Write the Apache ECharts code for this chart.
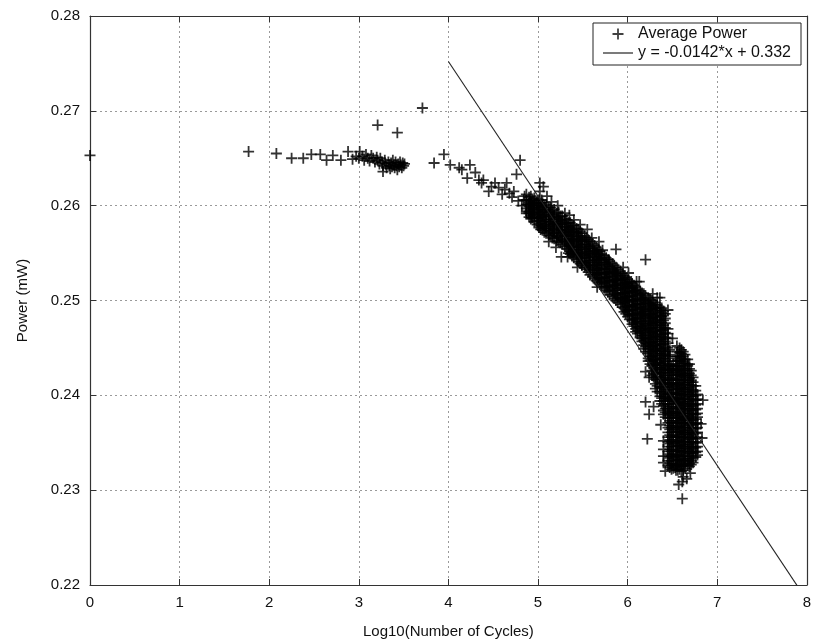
<!DOCTYPE html>
<html>
<head>
<meta charset="utf-8">
<script src="https://cdn.jsdelivr.net/npm/echarts@6/dist/echarts.min.js"></script>
<style>
  html, body { margin: 0; padding: 0; background: #fff; }
  #chart { width: 814px; height: 644px; }
</style>
</head>
<body>
<div id="chart"></div>
<script>
// Average power against log10 of the cycle count, with the linear fit of the tail.

const xTickValues = [0, 1, 2, 3, 4, 5, 6, 7, 8];
const yTickValues = [0.22, 0.23, 0.24, 0.25, 0.26, 0.27, 0.28];

// Short runs: flat plateau near 0.265 mW
const earlyPoints = [
  [0, 0.2653], [1.77, 0.2657], [2.08, 0.2655], [2.25, 0.2650], [2.38, 0.2650],
  [2.47, 0.2654], [2.57, 0.2654], [2.64, 0.2648], [2.71, 0.2653], [2.80, 0.2648],
  [2.88, 0.2657], [2.93, 0.2649], [2.97, 0.2652]
];

const plateauPoints = [
  [3.00, 0.2650], [3.01, 0.2657], [3.04, 0.2652], [3.06, 0.2648], [3.08, 0.2654],
  [3.10, 0.2650], [3.12, 0.2647], [3.14, 0.2653], [3.16, 0.2650], [3.18, 0.2646],
  [3.20, 0.2651], [3.21, 0.2648], [3.23, 0.2644], [3.24, 0.2650], [3.26, 0.2646],
  [3.27, 0.2642], [3.27, 0.2636], [3.29, 0.2648], [3.30, 0.2644], [3.31, 0.2640],
  [3.33, 0.2646], [3.34, 0.2642], [3.35, 0.2639], [3.36, 0.2645], [3.37, 0.2641],
  [3.38, 0.2648], [3.39, 0.2643], [3.40, 0.2640], [3.41, 0.2646], [3.42, 0.2642],
  [3.43, 0.2638], [3.44, 0.2644], [3.45, 0.2641], [3.46, 0.2646], [3.47, 0.2643],
  [3.48, 0.2640], [3.49, 0.2645], [3.50, 0.2642], [3.51, 0.2644],
  [3.21, 0.2685], [3.43, 0.2677], [3.71, 0.2703], [3.84, 0.2645], [3.95, 0.2654]
];

// Onset of the decline between 10^4 and 10^5 cycles
const transitionPoints = [
  [4.02, 0.2643], [4.12, 0.2640], [4.15, 0.2638], [4.21, 0.2629], [4.24, 0.2643],
  [4.30, 0.2635], [4.34, 0.2627], [4.37, 0.2624], [4.39, 0.2627], [4.45, 0.2615],
  [4.48, 0.2620], [4.52, 0.2624], [4.56, 0.2619], [4.60, 0.2612], [4.63, 0.2617],
  [4.65, 0.2624], [4.68, 0.2613], [4.71, 0.2609], [4.73, 0.2615], [4.76, 0.2633],
  [4.78, 0.2605], [4.80, 0.2648], [4.82, 0.2600], [4.84, 0.2606], [4.85, 0.2610],
  [4.87, 0.2594], [4.89, 0.2601], [4.90, 0.2592], [4.91, 0.2605], [4.93, 0.2588],
  [4.95, 0.2596], [4.98, 0.2603], [5.00, 0.2587], [5.02, 0.2624], [5.02, 0.2615],
  [5.04, 0.2606], [5.06, 0.2620], [5.10, 0.2610]
];

// Dense main band, one column of readings per x position
const bandColumns = [
  [4.87, [0.2612, 0.2606, 0.2601, 0.2597, 0.2592]],
  [4.92, [0.2610, 0.2605, 0.2601, 0.2595, 0.2590, 0.2586]],
  [4.96, [0.2608, 0.2603, 0.2597, 0.2593, 0.2588, 0.2583]],
  [5.01, [0.2606, 0.2600, 0.2596, 0.2591, 0.2587, 0.2581, 0.2577]],
  [5.05, [0.2603, 0.2599, 0.2593, 0.2589, 0.2583, 0.2578, 0.2574]],
  [5.09, [0.2601, 0.2596, 0.2591, 0.2585, 0.2581, 0.2576, 0.2571]],
  [5.14, [0.2598, 0.2594, 0.2588, 0.2583, 0.2579, 0.2573, 0.2568]],
  [5.18, [0.2596, 0.2590, 0.2586, 0.2581, 0.2575, 0.2571, 0.2565]],
  [5.23, [0.2593, 0.2588, 0.2583, 0.2578, 0.2574, 0.2568, 0.2562]],
  [5.27, [0.2589, 0.2584, 0.2580, 0.2574, 0.2569, 0.2564, 0.2559]],
  [5.32, [0.2585, 0.2581, 0.2575, 0.2571, 0.2565, 0.2560, 0.2555]],
  [5.36, [0.2582, 0.2577, 0.2572, 0.2567, 0.2563, 0.2557, 0.2552, 0.2549]],
  [5.40, [0.2579, 0.2573, 0.2569, 0.2564, 0.2558, 0.2554, 0.2549, 0.2545]],
  [5.45, [0.2575, 0.2571, 0.2565, 0.2560, 0.2556, 0.2550, 0.2546, 0.2541]],
  [5.49, [0.2571, 0.2566, 0.2562, 0.2556, 0.2551, 0.2547, 0.2541, 0.2537]],
  [5.54, [0.2566, 0.2562, 0.2557, 0.2552, 0.2547, 0.2542, 0.2537, 0.2533]],
  [5.58, [0.2562, 0.2557, 0.2552, 0.2548, 0.2542, 0.2537, 0.2532, 0.2527]],
  [5.63, [0.2558, 0.2553, 0.2549, 0.2543, 0.2538, 0.2534, 0.2528, 0.2523]],
  [5.67, [0.2554, 0.2549, 0.2544, 0.2540, 0.2534, 0.2529, 0.2524, 0.2519]],
  [5.71, [0.2549, 0.2545, 0.2540, 0.2534, 0.2530, 0.2524, 0.2520, 0.2515]],
  [5.76, [0.2545, 0.2540, 0.2536, 0.2530, 0.2525, 0.2521, 0.2515, 0.2511]],
  [5.80, [0.2541, 0.2536, 0.2531, 0.2527, 0.2521, 0.2516, 0.2511, 0.2506]],
  [5.85, [0.2537, 0.2532, 0.2528, 0.2522, 0.2517, 0.2513, 0.2507, 0.2502]],
  [5.89, [0.2533, 0.2528, 0.2523, 0.2519, 0.2513, 0.2508, 0.2503, 0.2498]],
  [5.94, [0.2528, 0.2524, 0.2518, 0.2514, 0.2508, 0.2503, 0.2499, 0.2493]],
  [5.98, [0.2524, 0.2519, 0.2515, 0.2509, 0.2504, 0.2500, 0.2494, 0.2490, 0.2486]],
  [6.02, [0.2520, 0.2516, 0.2510, 0.2505, 0.2501, 0.2495, 0.2490, 0.2485, 0.2480]],
  [6.07, [0.2516, 0.2511, 0.2507, 0.2501, 0.2496, 0.2492, 0.2486, 0.2481, 0.2477, 0.2473]],
  [6.11, [0.2512, 0.2508, 0.2502, 0.2497, 0.2493, 0.2487, 0.2482, 0.2478, 0.2472, 0.2468, 0.2465]],
  [6.16, [0.2508, 0.2503, 0.2499, 0.2493, 0.2488, 0.2484, 0.2478, 0.2473, 0.2469, 0.2463, 0.2460, 0.2457]],
  [6.20, [0.2505, 0.2500, 0.2496, 0.2490, 0.2485, 0.2481, 0.2475, 0.2470, 0.2466, 0.2460, 0.2455, 0.2451, 0.2446]],
  [6.25, [0.2501, 0.2497, 0.2491, 0.2486, 0.2482, 0.2476, 0.2471, 0.2467, 0.2461, 0.2456, 0.2452, 0.2446, 0.2441, 0.2437, 0.2433]],
  [6.29, [0.2498, 0.2493, 0.2489, 0.2483, 0.2478, 0.2474, 0.2468, 0.2463, 0.2459, 0.2453, 0.2448, 0.2444, 0.2438, 0.2433, 0.2429, 0.2423, 0.2419]],
  [6.33, [0.2495, 0.2491, 0.2485, 0.2480, 0.2476, 0.2470, 0.2465, 0.2461, 0.2455, 0.2450, 0.2446, 0.2440, 0.2435, 0.2431, 0.2425, 0.2420, 0.2416, 0.2410, 0.2404]],
  [6.38, [0.2492, 0.2487, 0.2483, 0.2477, 0.2472, 0.2468, 0.2462, 0.2457, 0.2453, 0.2447, 0.2442, 0.2438, 0.2432, 0.2427, 0.2423, 0.2417, 0.2412, 0.2408, 0.2402, 0.2397, 0.2391]],
  [6.42, [0.2486, 0.2481, 0.2476, 0.2471, 0.2466, 0.2461, 0.2457, 0.2451, 0.2446, 0.2442, 0.2436, 0.2431, 0.2427, 0.2421, 0.2416, 0.2412, 0.2406, 0.2401, 0.2397, 0.2391, 0.2386, 0.2382, 0.2377]],
  [6.47, [0.2448, 0.2443, 0.2439, 0.2433, 0.2428, 0.2424, 0.2418, 0.2413, 0.2409, 0.2403, 0.2398, 0.2394, 0.2388, 0.2383, 0.2379, 0.2373, 0.2368, 0.2364, 0.2358, 0.2353, 0.2349, 0.2343, 0.2338, 0.2334, 0.2328, 0.2324]]
];

// Readings lying between the columns above
const bandColumnsB = [
  [4.90, [0.2609, 0.2603, 0.2599, 0.2594, 0.2588]],
  [4.94, [0.2607, 0.2602, 0.2598, 0.2592, 0.2587]],
  [4.99, [0.2605, 0.2600, 0.2594, 0.2590, 0.2584, 0.2580]],
  [5.03, [0.2603, 0.2598, 0.2593, 0.2588, 0.2584, 0.2579, 0.2575]],
  [5.07, [0.2600, 0.2595, 0.2590, 0.2586, 0.2580, 0.2576, 0.2572]],
  [5.12, [0.2598, 0.2593, 0.2589, 0.2583, 0.2578, 0.2574, 0.2569]],
  [5.16, [0.2595, 0.2591, 0.2585, 0.2580, 0.2576, 0.2570, 0.2566]],
  [5.21, [0.2592, 0.2587, 0.2581, 0.2577, 0.2572, 0.2567, 0.2563]],
  [5.25, [0.2589, 0.2585, 0.2580, 0.2575, 0.2571, 0.2566, 0.2561]],
  [5.30, [0.2586, 0.2582, 0.2577, 0.2572, 0.2568, 0.2562, 0.2557]],
  [5.34, [0.2582, 0.2578, 0.2573, 0.2569, 0.2563, 0.2558, 0.2554, 0.2550]],
  [5.38, [0.2579, 0.2575, 0.2570, 0.2565, 0.2561, 0.2556, 0.2551, 0.2547]],
  [5.43, [0.2576, 0.2572, 0.2567, 0.2562, 0.2557, 0.2553, 0.2548, 0.2543]],
  [5.47, [0.2573, 0.2568, 0.2563, 0.2559, 0.2554, 0.2549, 0.2544, 0.2539]],
  [5.52, [0.2568, 0.2564, 0.2559, 0.2554, 0.2549, 0.2545, 0.2539, 0.2535]],
  [5.56, [0.2564, 0.2559, 0.2555, 0.2550, 0.2545, 0.2540, 0.2535, 0.2530]],
  [5.61, [0.2560, 0.2555, 0.2550, 0.2546, 0.2540, 0.2536, 0.2530, 0.2525]],
  [5.65, [0.2556, 0.2551, 0.2546, 0.2542, 0.2537, 0.2532, 0.2527, 0.2521]],
  [5.69, [0.2552, 0.2547, 0.2542, 0.2537, 0.2532, 0.2527, 0.2522, 0.2517]],
  [5.74, [0.2547, 0.2543, 0.2538, 0.2533, 0.2528, 0.2523, 0.2518, 0.2513]],
  [5.78, [0.2543, 0.2538, 0.2533, 0.2529, 0.2524, 0.2519, 0.2514, 0.2509]],
  [5.83, [0.2539, 0.2534, 0.2530, 0.2525, 0.2520, 0.2515, 0.2510, 0.2504]],
  [5.87, [0.2535, 0.2530, 0.2526, 0.2521, 0.2516, 0.2511, 0.2505, 0.2500]],
  [5.92, [0.2531, 0.2526, 0.2521, 0.2516, 0.2511, 0.2506, 0.2501, 0.2496]],
  [5.96, [0.2526, 0.2522, 0.2517, 0.2512, 0.2507, 0.2502, 0.2497, 0.2492, 0.2488]],
  [6.00, [0.2522, 0.2518, 0.2513, 0.2508, 0.2503, 0.2498, 0.2493, 0.2488, 0.2483]],
  [6.05, [0.2518, 0.2513, 0.2509, 0.2504, 0.2499, 0.2494, 0.2489, 0.2484, 0.2479, 0.2475]],
  [6.09, [0.2514, 0.2510, 0.2505, 0.2500, 0.2495, 0.2490, 0.2485, 0.2480, 0.2475, 0.2470, 0.2467]],
  [6.14, [0.2510, 0.2506, 0.2501, 0.2496, 0.2491, 0.2486, 0.2481, 0.2476, 0.2471, 0.2466, 0.2461]],
  [6.18, [0.2507, 0.2502, 0.2497, 0.2492, 0.2488, 0.2483, 0.2478, 0.2473, 0.2468, 0.2463, 0.2458, 0.2453, 0.2449]],
  [6.23, [0.2503, 0.2498, 0.2494, 0.2489, 0.2484, 0.2479, 0.2474, 0.2469, 0.2464, 0.2459, 0.2454, 0.2449, 0.2444, 0.2439, 0.2436]],
  [6.27, [0.2500, 0.2495, 0.2491, 0.2486, 0.2481, 0.2476, 0.2471, 0.2466, 0.2461, 0.2456, 0.2451, 0.2446, 0.2441, 0.2436, 0.2431, 0.2426, 0.2421]],
  [6.31, [0.2496, 0.2492, 0.2487, 0.2482, 0.2477, 0.2472, 0.2467, 0.2462, 0.2457, 0.2452, 0.2447, 0.2442, 0.2437, 0.2432, 0.2427, 0.2422, 0.2417, 0.2412, 0.2407]],
  [6.36, [0.2493, 0.2489, 0.2484, 0.2479, 0.2474, 0.2469, 0.2464, 0.2459, 0.2454, 0.2449, 0.2444, 0.2439, 0.2434, 0.2429, 0.2424, 0.2419, 0.2414, 0.2409, 0.2404, 0.2399, 0.2394]],
  [6.40, [0.2489, 0.2484, 0.2479, 0.2474, 0.2469, 0.2464, 0.2459, 0.2454, 0.2449, 0.2444, 0.2439, 0.2434, 0.2429, 0.2424, 0.2419, 0.2414, 0.2409, 0.2404, 0.2399, 0.2394, 0.2389, 0.2384, 0.2380]],
  [6.45, [0.2470, 0.2465, 0.2460, 0.2455, 0.2450, 0.2446, 0.2441, 0.2436, 0.2431, 0.2426, 0.2421, 0.2416, 0.2411, 0.2406, 0.2401, 0.2396, 0.2391, 0.2386, 0.2381, 0.2376, 0.2371, 0.2366, 0.2361, 0.2356, 0.2351, 0.2346, 0.2341, 0.2336, 0.2331, 0.2326]]
];

// Second lobe of long runs near 10^6.6 cycles
const lobeColumns = [
  [6.51, [0.2433, 0.2428, 0.2424, 0.2418, 0.2413, 0.2409, 0.2403, 0.2398, 0.2394, 0.2388, 0.2383, 0.2379, 0.2373, 0.2368, 0.2364, 0.2358, 0.2353, 0.2349, 0.2343, 0.2338, 0.2334, 0.2328, 0.2323]],
  [6.56, [0.2446, 0.2441, 0.2437, 0.2431, 0.2426, 0.2422, 0.2416, 0.2411, 0.2407, 0.2401, 0.2396, 0.2392, 0.2386, 0.2381, 0.2377, 0.2371, 0.2366, 0.2362, 0.2356, 0.2351, 0.2347, 0.2341, 0.2336, 0.2332, 0.2326, 0.2321]],
  [6.60, [0.2448, 0.2444, 0.2439, 0.2434, 0.2429, 0.2424, 0.2420, 0.2414, 0.2409, 0.2404, 0.2400, 0.2394, 0.2389, 0.2385, 0.2379, 0.2374, 0.2370, 0.2364, 0.2359, 0.2355, 0.2349, 0.2344, 0.2340, 0.2334, 0.2329, 0.2325, 0.2320]],
  [6.64, [0.2443, 0.2438, 0.2434, 0.2428, 0.2423, 0.2419, 0.2413, 0.2408, 0.2404, 0.2398, 0.2393, 0.2389, 0.2383, 0.2378, 0.2374, 0.2368, 0.2363, 0.2359, 0.2353, 0.2348, 0.2344, 0.2338, 0.2333, 0.2328, 0.2323]],
  [6.69, [0.2433, 0.2428, 0.2423, 0.2418, 0.2414, 0.2408, 0.2403, 0.2399, 0.2393, 0.2388, 0.2384, 0.2378, 0.2373, 0.2369, 0.2363, 0.2358, 0.2354, 0.2348, 0.2343, 0.2339, 0.2333, 0.2328, 0.2325]],
  [6.73, [0.2419, 0.2414, 0.2410, 0.2404, 0.2399, 0.2395, 0.2389, 0.2384, 0.2380, 0.2374, 0.2369, 0.2365, 0.2359, 0.2354, 0.2350, 0.2344, 0.2339, 0.2334, 0.2329]],
  [6.78, [0.2401, 0.2396, 0.2391, 0.2386, 0.2381, 0.2377, 0.2371, 0.2366, 0.2361, 0.2356, 0.2351, 0.2346, 0.2341, 0.2337]]
];

const lobeColumnsB = [
  [6.49, [0.2430, 0.2426, 0.2421, 0.2416, 0.2411, 0.2406, 0.2401, 0.2396, 0.2391, 0.2386, 0.2381, 0.2376, 0.2371, 0.2366, 0.2361, 0.2356, 0.2351, 0.2346, 0.2341, 0.2336, 0.2331, 0.2326, 0.2322]],
  [6.54, [0.2441, 0.2436, 0.2431, 0.2426, 0.2421, 0.2416, 0.2411, 0.2406, 0.2401, 0.2396, 0.2391, 0.2386, 0.2381, 0.2376, 0.2371, 0.2366, 0.2361, 0.2356, 0.2351, 0.2346, 0.2341, 0.2336, 0.2331, 0.2326, 0.2321]],
  [6.58, [0.2450, 0.2445, 0.2441, 0.2436, 0.2431, 0.2427, 0.2422, 0.2417, 0.2412, 0.2407, 0.2402, 0.2397, 0.2392, 0.2387, 0.2382, 0.2377, 0.2372, 0.2367, 0.2362, 0.2357, 0.2352, 0.2347, 0.2342, 0.2337, 0.2332, 0.2327, 0.2322]],
  [6.62, [0.2446, 0.2441, 0.2436, 0.2431, 0.2426, 0.2421, 0.2416, 0.2411, 0.2406, 0.2401, 0.2396, 0.2391, 0.2386, 0.2381, 0.2376, 0.2371, 0.2366, 0.2361, 0.2356, 0.2351, 0.2346, 0.2341, 0.2336, 0.2331, 0.2326, 0.2321]],
  [6.67, [0.2438, 0.2433, 0.2431, 0.2426, 0.2421, 0.2416, 0.2411, 0.2406, 0.2401, 0.2396, 0.2391, 0.2386, 0.2381, 0.2376, 0.2371, 0.2366, 0.2361, 0.2356, 0.2351, 0.2346, 0.2341, 0.2336, 0.2331, 0.2326]],
  [6.71, [0.2426, 0.2421, 0.2416, 0.2411, 0.2406, 0.2401, 0.2396, 0.2391, 0.2386, 0.2381, 0.2376, 0.2371, 0.2366, 0.2361, 0.2356, 0.2351, 0.2346, 0.2341, 0.2336, 0.2331, 0.2327]],
  [6.76, [0.2410, 0.2405, 0.2400, 0.2395, 0.2390, 0.2385, 0.2380, 0.2375, 0.2370, 0.2365, 0.2360, 0.2355, 0.2350, 0.2345, 0.2340, 0.2335]]
];

// Scattered readings around the band
const outlierPoints = [
  [5.26, 0.2546], [5.30, 0.2592], [5.40, 0.2585], [5.60, 0.2566], [5.72, 0.2553],
  [5.79, 0.2543], [5.87, 0.2554], [5.87, 0.2529], [5.87, 0.2522], [6.01, 0.2529],
  [6.04, 0.2520], [6.04, 0.2514], [6.10, 0.2520], [6.20, 0.2543], [6.28, 0.2507],
  [6.36, 0.2503], [6.45, 0.2490], [6.50, 0.2460], [6.55, 0.2452],
  [6.20, 0.2425], [6.24, 0.2419], [6.20, 0.2393], [6.29, 0.2388], [6.24, 0.2380],
  [6.37, 0.2369], [6.22, 0.2354], [6.40, 0.2352], [6.40, 0.2343], [6.40, 0.2336],
  [6.40, 0.2329], [6.42, 0.2320], [6.53, 0.2324], [6.62, 0.2314], [6.61, 0.2309],
  [6.57, 0.2306], [6.61, 0.2291], [6.66, 0.2312], [6.70, 0.2318],
  [6.82, 0.2370], [6.84, 0.2395], [6.83, 0.2355],
  [5.15, 0.2604], [5.22, 0.2600], [5.35, 0.2590], [5.47, 0.2580], [5.55, 0.2575],
  [5.68, 0.2562], [5.95, 0.2535], [6.13, 0.2520], [6.33, 0.2503],
  [5.12, 0.2562], [5.20, 0.2556], [5.33, 0.2546], [5.44, 0.2535], [5.66, 0.2514]
];

// Linear fit shown in the legend
const fitSlope = -0.0142;
const fitIntercept = 0.332;
const fitRange = [4, 8];
const fitLabel = 'y = -0.0142*x + 0.332';
const seriesLabel = 'Average Power';

const expand = cols => cols.flatMap(([x, ys]) => ys.map(y => [x, y]));
const powerPoints = [
  ...earlyPoints, ...plateauPoints, ...transitionPoints,
  ...expand(bandColumns), ...expand(bandColumnsB),
  ...expand(lobeColumns), ...expand(lobeColumnsB),
  ...outlierPoints
];
const fitPoints = fitRange.map(x => [x, fitSlope * x + fitIntercept]);

const font = '"Liberation Sans", Arial, Helvetica, sans-serif';
const ink = '#111';
const frame = '#333';
// plus-shaped marker on an 11 x 11 box
const plusPath = 'path://M4.6,0h1.8v4.6h4.6v1.8h-4.6v4.6h-1.8v-4.6h-4.6v-1.8h4.6z';
const dashIcon = 'path://M0,0H30V1.2H0Z';

const gridLine = { show: true, lineStyle: { color: '#9a9a9a', type: [2, 3], width: 1 } };
const frameLine = { show: true, onZero: false, lineStyle: { color: frame, width: 1.2 } };
const inTick = { show: true, inside: true, length: 6, lineStyle: { color: frame, width: 1 } };

const chart = echarts.init(document.getElementById('chart'), null, { renderer: 'canvas' });
chart.setOption({
  animation: false,
  backgroundColor: '#fff',
  grid: { left: 90, right: 2, top: 16, bottom: 58 },
  legend: {
    left: 593, top: 23,
    orient: 'vertical',
    padding: [3, 10, 4, 10],
    itemGap: 3,
    itemWidth: 30, itemHeight: 11,
    borderColor: '#222', borderWidth: 1,
    backgroundColor: '#fff',
    textStyle: { fontSize: 16, color: ink, fontFamily: font },
    data: [
      { name: seriesLabel, icon: plusPath, itemStyle: { color: ink } },
      { name: fitLabel, icon: dashIcon, itemStyle: { color: '#222' } }
    ]
  },
  xAxis: [{
    type: 'value', min: xTickValues[0], max: xTickValues[xTickValues.length - 1], interval: 1,
    name: 'Log10(Number of Cycles)', nameLocation: 'middle', nameGap: 39,
    nameTextStyle: { fontSize: 15, color: ink, fontFamily: font },
    axisLine: frameLine, axisTick: inTick, splitLine: gridLine,
    axisLabel: { fontSize: 15, color: ink, fontFamily: font, margin: 10 }
  }, {
    type: 'value', position: 'top', min: xTickValues[0], max: xTickValues[xTickValues.length - 1], interval: 1,
    axisLine: frameLine, axisTick: inTick, splitLine: { show: false }, axisLabel: { show: false }
  }],
  yAxis: [{
    type: 'value', min: yTickValues[0], max: yTickValues[yTickValues.length - 1], interval: 0.01,
    name: 'Power (mW)', nameLocation: 'middle', nameGap: 60,
    nameTextStyle: { fontSize: 15, color: ink, fontFamily: font },
    axisLine: frameLine, axisTick: inTick, splitLine: gridLine,
    axisLabel: { fontSize: 15, color: ink, fontFamily: font, margin: 10, formatter: v => v.toFixed(2) }
  }, {
    type: 'value', position: 'right', min: yTickValues[0], max: yTickValues[yTickValues.length - 1], interval: 0.01,
    axisLine: frameLine, axisTick: inTick, splitLine: { show: false }, axisLabel: { show: false }
  }],
  series: [{
    name: seriesLabel,
    type: 'scatter',
    data: powerPoints,
    symbol: plusPath,
    symbolSize: 11,
    itemStyle: { color: '#000' },
    z: 3
  }, {
    name: fitLabel,
    type: 'line',
    data: fitPoints,
    symbol: 'none',
    clip: true,
    lineStyle: { color: '#222', width: 1.1 },
    itemStyle: { color: '#222' },
    z: 4
  }]
});
</script>
</body>
</html>
